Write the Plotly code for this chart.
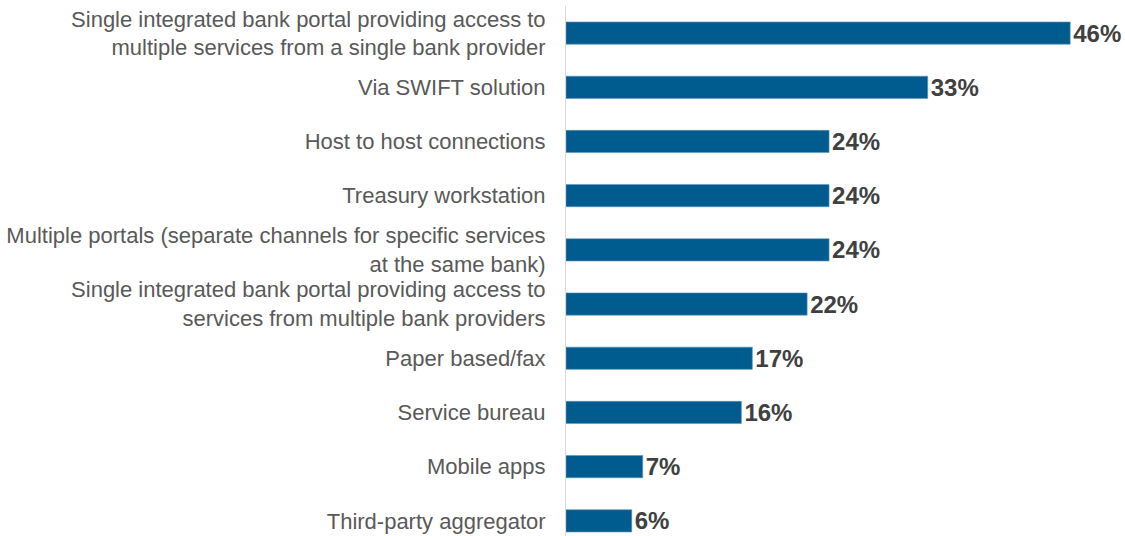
import plotly.graph_objects as go

# Bank connectivity channels, top to bottom
categories = [
    "Single integrated bank portal providing access to<br>multiple services from a single bank provider",
    "Via SWIFT solution",
    "Host to host connections",
    "Treasury workstation",
    "Multiple portals (separate channels for specific services<br>at the same bank)",
    "Single integrated bank portal providing access to<br>services from multiple bank providers",
    "Paper based/fax",
    "Service bureau",
    "Mobile apps",
    "Third-party aggregator",
]
values = [46, 33, 24, 24, 24, 22, 17, 16, 7, 6]
value_labels = [f"{v}%" for v in values]

positions = list(range(len(categories)))

fig = go.Figure(
    go.Bar(
        x=values,
        y=positions,
        orientation="h",
        marker=dict(color="#005B8F", line=dict(color="#5b94c0", width=0.6)),
        text=value_labels,
        textposition="outside",
        constraintext="none",
        textfont=dict(family="Liberation Sans, Arial, sans-serif", size=24, color="#404040", weight="bold"),
        cliponaxis=False,
        width=0.41,
    )
)

fig.update_layout(
    width=1125,
    height=536,
    margin=dict(l=566, r=0, t=6, b=0),
    plot_bgcolor="white",
    paper_bgcolor="white",
    showlegend=False,
    font=dict(family="Liberation Sans, Arial, sans-serif"),
    xaxis=dict(
        range=[0, 51.0],
        visible=False,
        showgrid=False,
        zeroline=False,
    ),
    yaxis=dict(
        range=[9.28, -0.5],
        tickmode="array",
        tickvals=positions,
        ticktext=categories,
        tickfont=dict(size=22, color="#595959"),
        showline=True,
        linecolor="#d9d9d9",
        linewidth=1,
        showgrid=False,
        zeroline=False,
        ticks="",
        ticklabelstandoff=15,
    ),
)

fig.write_html("out.html")
